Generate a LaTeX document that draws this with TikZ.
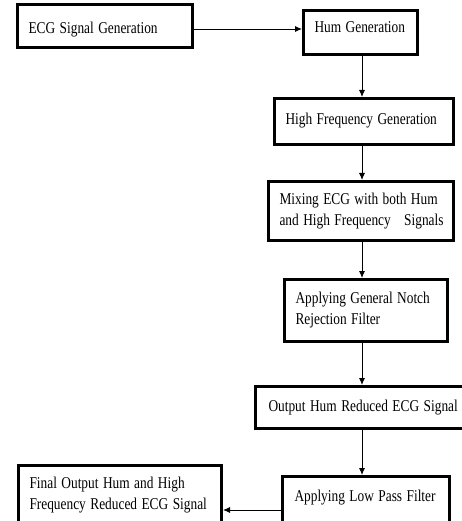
\documentclass[tikz,border=0pt]{standalone}
\usepackage{fontspec}
\usepackage{graphicx}
\setmainfont{Liberation Serif}
\usetikzlibrary{arrows.meta}
\hfuzz=100pt
\newcommand{\oneline}[1]{\scalebox{0.81}[1]{#1}}
\newcommand{\blkfont}{\fontsize{16.5}{21}\selectfont}
\begin{document}
\begin{tikzpicture}[x=1pt,y=-1pt,
  blk/.style={draw=black, line width=3pt, fill=white, rectangle, align=left,
    inner xsep=0pt, inner ysep=0pt, font=\blkfont},
  arr/.style={draw=black, line width=0.9pt, -{Latex[length=7pt,width=6pt]}}]
\useasboundingbox (0,0) rectangle (462,521);
\coordinate (axis) at (362,0);
\node[blk, minimum width=175pt, minimum height=43pt, text width=153pt, text height=18pt] (b1) at (105,26) {\oneline{ECG Signal Generation}};
\node[blk, minimum width=114pt, minimum height=44pt, text width=92pt, text depth=10pt] (b2) at (360.5,32.5) {\oneline{Hum Generation}};
\node[blk, minimum width=179pt, minimum height=46pt, text width=157pt, text depth=6pt] (b3) at (364,121.5) {\oneline{High Frequency Generation}};
\node[blk, minimum width=185pt, minimum height=59pt, text width=163pt] (b4) at (361,211) {\oneline{Mixing ECG with both Hum}\\\oneline{and High Frequency\ \ \ Signals}};
\node[blk, minimum width=163pt, minimum height=62pt, text width=141pt] (b5) at (366,310.5) {\oneline{Applying General Notch}\\\oneline{Rejection Filter}};
\node[blk, minimum width=211pt, minimum height=42pt, text width=185pt] (b6) at (361,407.5) {\oneline{Output Hum Reduced ECG Signal}};
\node[blk, minimum width=167pt, minimum height=53pt, text width=143pt, text depth=14pt] (b7) at (366,503) {\oneline{Applying Low Pass Filter}};
\node[blk, minimum width=203pt, minimum height=59pt, text width=181pt] (b8) at (120,495) {\oneline{Final Output Hum and High}\\\oneline{Frequency Reduced ECG Signal}};
\draw[arr] ([yshift=-3pt]b1.east) -- ([yshift=-3pt]b1.east -| b2.west);
\draw[arr] (b2.south -| axis) -- (b3.north -| axis);
\draw[arr] (b3.south -| axis) -- (b4.north -| axis);
\draw[arr] (b4.south -| axis) -- (b5.north -| axis);
\draw[arr] (b5.south -| axis) -- (b6.north -| axis);
\draw[arr] (b6.south -| axis) -- (b7.north -| axis);
\draw[arr] ([yshift=-7pt]b7.west) -- ([yshift=-7pt]b7.west -| b8.east);
\end{tikzpicture}
\end{document}
